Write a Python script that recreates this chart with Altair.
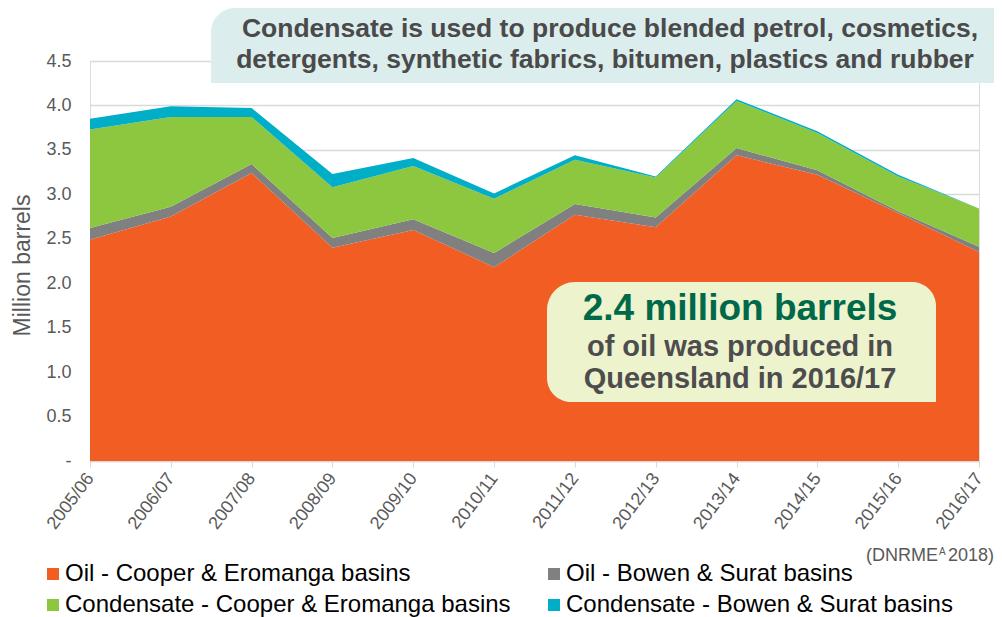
import altair as alt
import pandas as pd

# ---- data ----
years = ["2005/06", "2006/07", "2007/08", "2008/09", "2009/10", "2010/11",
         "2011/12", "2012/13", "2013/14", "2014/15", "2015/16", "2016/17"]
oil_cooper = [2.49, 2.75, 3.24, 2.40, 2.60, 2.18, 2.77, 2.63, 3.44, 3.22, 2.79, 2.35]
oil_bowen = [0.13, 0.11, 0.10, 0.11, 0.12, 0.16, 0.12, 0.11, 0.08, 0.05, 0.02, 0.06]
cond_cooper = [1.11, 1.01, 0.53, 0.57, 0.60, 0.61, 0.50, 0.45, 0.53, 0.42, 0.39, 0.43]
cond_bowen = [0.12, 0.12, 0.10, 0.15, 0.09, 0.06, 0.05, 0.01, 0.02, 0.02, 0.02, 0.00]

series = ["Oil - Cooper & Eromanga basins", "Oil - Bowen & Surat basins",
          "Condensate - Cooper & Eromanga basins", "Condensate - Bowen & Surat basins"]
colors = ["#F15D22", "#808080", "#8DC63F", "#00AEC7"]
y_ticks = [0, 0.5, 1.0, 1.5, 2.0, 2.5, 3.0, 3.5, 4.0, 4.5]

note_top = ["Condensate is used to produce blended petrol, cosmetics,",
            "detergents, synthetic fabrics, bitumen, plastics and rubber"]
note_big = ["2.4 million barrels"]
note_sub = ["of oil was produced in", "Queensland in 2016/17"]
source_parts = ["(DNRME", "A", "2018)"]

FONT = "Liberation Sans"

rows = []
for k, vals in enumerate([oil_cooper, oil_bowen, cond_cooper, cond_bowen]):
    for yr, v in zip(years, vals):
        rows.append({"year": yr, "series": series[k], "value": v, "order": k})
df = pd.DataFrame(rows)

area = alt.Chart(df).mark_area(opacity=1).encode(
    x=alt.X("year:N", sort=years, scale=alt.Scale(type="point", padding=0),
            axis=alt.Axis(title=None, labelAngle=-53, labelAlign="right",
                          labelBaseline="middle", labelFontSize=18, labelColor="#595959",
                          labelPadding=8, tickColor="#D9D9D9", tickSize=6,
                          domainColor="#D9D9D9", domainWidth=1.5, grid=False,
                          labelFont=FONT)),
    y=alt.Y("value:Q", stack="zero", scale=alt.Scale(domain=[0, 4.5], nice=False),
            axis=alt.Axis(title="Million barrels", values=y_ticks,
                          labelExpr="datum.value == 0 ? '-\u00a0\u00a0\u00a0' : format(datum.value, '.1f')",
                          labelFontSize=18, labelColor="#595959", labelPadding=19,
                          ticks=False, domain=False, grid=True, gridColor="#D9D9D9",
                          gridWidth=1.5, titleFontSize=23, titleFontWeight="normal",
                          titleColor="#595959", titleX=-68, titleY=204, titleAngle=-90,
                          titleAlign="center", titleBaseline="middle", labelFont=FONT,
                          titleFont=FONT)),
    color=alt.Color("series:N", sort=series,
                    scale=alt.Scale(domain=series, range=colors),
                    legend=alt.Legend(title=None, orient="none", legendX=-49, legendY=501,
                                      columns=2, direction="horizontal",
                                      symbolType="square", symbolSize=144,
                                      symbolStrokeWidth=0, labelFontSize=24,
                                      labelColor="#000000", labelLimit=1000,
                                      columnPadding=31, rowPadding=7, labelOffset=0,
                                      labelFont=FONT)),
    order=alt.Order("order:Q", sort="ascending"),
)

box_top = alt.Chart(pd.DataFrame({"a": [0]})).mark_rect(
    color="#DBEEED", cornerRadiusTopLeft=24, cornerRadiusBottomRight=8
).encode(x=alt.value(121), x2=alt.value(910), y=alt.value(-53), y2=alt.value(22))

box_mid = alt.Chart(pd.DataFrame({"a": [0]})).mark_rect(
    color="#EDF3CD", cornerRadiusTopLeft=28, cornerRadiusTopRight=24,
    cornerRadiusBottomLeft=24
).encode(x=alt.value(457), x2=alt.value(846), y=alt.value(221), y2=alt.value(341))


def text_layer(txt, x, y, size, color, weight="bold", align="center"):
    return alt.Chart(pd.DataFrame({"t": [txt]})).mark_text(
        fontSize=size, fontWeight=weight, color=color, align=align,
        baseline="alphabetic", font=FONT
    ).encode(x=alt.value(x), y=alt.value(y), text="t:N")


texts = [
    text_layer(note_top[0], 520, -24, 26.5, "#4A4A4A"),
    text_layer(note_top[1], 515, 7, 26.5, "#4A4A4A"),
    text_layer(note_big[0], 650, 259, 37, "#00694A"),
    text_layer(note_sub[0], 650, 295, 29, "#4D4D4D"),
    text_layer(note_sub[1], 650, 327, 29, "#4D4D4D"),
    text_layer(source_parts[0], 848, 500, 18, "#595959", "normal", "right"),
    text_layer(source_parts[1], 849, 494, 10, "#595959", "normal", "left"),
    text_layer(source_parts[2], 904, 500, 18, "#595959", "normal", "right"),
]

chart = alt.layer(area, box_top, box_mid, *texts).properties(
    width=889, height=400,
    autosize=alt.AutoSizeParams(type="none"),
    padding={"left": 82, "top": 53, "right": 15, "bottom": 156},
).configure_view(stroke=None).configure(font=FONT)

chart.save("out.html", embed_options={"renderer": "svg", "actions": False})
